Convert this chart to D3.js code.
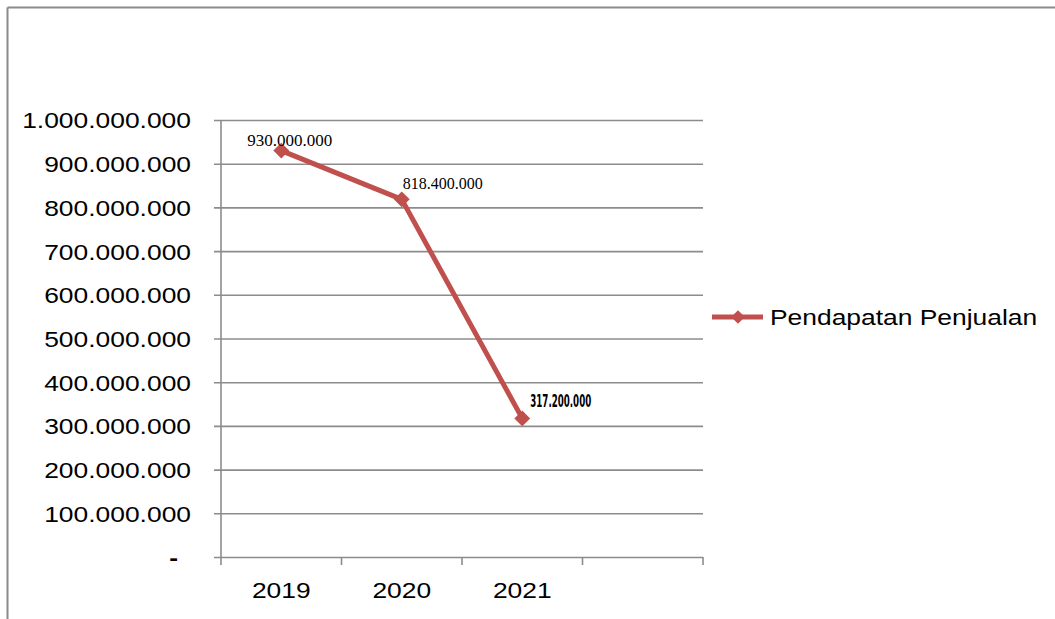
<!DOCTYPE html>
<html><head><meta charset="utf-8">
<script src="https://cdn.jsdelivr.net/npm/d3@7"></script>
<style>body{margin:0;background:#fff}svg{display:block}</style>
</head><body>
<svg id="c" width="1055" height="619"></svg>
<script>
const categories = ["2019", "2020", "2021", ""];
const years = ["2019", "2020", "2021"];
const values = [930000000, 818400000, 317200000];
const seriesName = "Pendapatan Penjualan";
const yTicks = [0,100000000,200000000,300000000,400000000,500000000,600000000,700000000,800000000,900000000,1000000000];

const svg = d3.select("#c");
const red = "#C0504D", grid = "#8c8c8c";
const pLeft = 221, pRight = 703, pTop = 120, pBottom = 557;
const x = d3.scaleBand().domain(categories).range([pLeft, pRight]);
const y = d3.scaleLinear().domain([0, 1000000000]).range([pBottom, pTop]);
const loc = d3.formatLocale({decimal: ",", thousands: ".", grouping: [3], currency: ["", ""]});
const fmt = loc.format(",.0f");
const stretch = (sel, k) => sel.each(function(){ const w = this.getComputedTextLength(); d3.select(this).attr("textLength", w * k).attr("lengthAdjust", "spacingAndGlyphs"); });

// outer frame
svg.append("line").attr("x1", 7.5).attr("x2", 1055).attr("y1", 7.5).attr("y2", 7.5).attr("stroke", "#8a8a8a").attr("stroke-width", 2);
svg.append("line").attr("x1", 7.5).attr("x2", 7.5).attr("y1", 7.5).attr("y2", 619).attr("stroke", "#8a8a8a").attr("stroke-width", 2);

// gridlines + y axis
const yAxis = d3.axisLeft(y).tickValues(yTicks).tickSize(0).tickFormat(d => d === 0 ? "-" : fmt(d));
const gy = svg.append("g").attr("transform", `translate(${pLeft},0)`).call(yAxis);
gy.select(".domain").remove();
gy.selectAll(".tick line").remove();
gy.selectAll(".tick").append("line").attr("x1", -7).attr("x2", pRight - pLeft).attr("stroke", grid).attr("stroke-width", 1.6);
gy.selectAll(".tick text").attr("x", d => d === 0 ? -43 : -30).attr("dy", "0.36em")
  .attr("font-family", "Liberation Sans, Arial, sans-serif").attr("font-size", 22).attr("fill", "#000")
  .attr("font-weight", d => d === 0 ? "bold" : "normal");
stretch(gy.selectAll(".tick text"), 1.2);

// x axis
const xAxis = d3.axisBottom(x).tickSize(0).tickFormat(d => d);
const gx = svg.append("g").attr("transform", `translate(0,${pBottom})`).call(xAxis);
gx.select(".domain").remove();
gx.selectAll(".tick text").attr("y", 41).attr("dy", 0).attr("font-family", "Liberation Sans, Arial, sans-serif").attr("font-size", 22).attr("fill", "#000");
stretch(gx.selectAll(".tick text"), 1.2);
const edges = categories.map(c => x(c)).concat([x.range()[1]]);
svg.append("g").selectAll("line").data(edges).join("line")
  .attr("x1", d => d).attr("x2", d => d).attr("y1", pBottom).attr("y2", pBottom + 8).attr("stroke", grid).attr("stroke-width", 1.6);
svg.append("line").attr("x1", pLeft).attr("x2", pLeft).attr("y1", pTop).attr("y2", pBottom).attr("stroke", grid).attr("stroke-width", 1.6);

// series line
const pts = years.map((c, i) => [x(c) + x.bandwidth() / 2, y(values[i])]);
svg.append("path").attr("d", d3.line()(pts)).attr("fill", "none").attr("stroke", red).attr("stroke-width", 5).attr("stroke-linejoin", "round");
const diamond = d3.symbol().type(d3.symbolDiamond2).size(160);
svg.append("g").selectAll("path").data(pts).join("path")
  .attr("transform", d => `translate(${d[0]},${d[1]})`).attr("d", diamond).attr("fill", red);

// data labels
const lab = svg.append("g");
const labelSpecs = [
  {dx: -34, dy: -5, w: 85, font: "Liberation Serif, Times New Roman, serif", weight: "normal", size: 17},
  {dx: 1, dy: -10, w: 80, font: "Liberation Serif, Times New Roman, serif", weight: "normal", size: 17},
  {dx: 8, dy: -11, w: 61, font: "Liberation Sans Narrow, DejaVu Sans Condensed, sans-serif", weight: "bold", size: 17}
];
pts.forEach((p, i) => {
  const s = labelSpecs[i];
  lab.append("text").attr("x", p[0] + s.dx).attr("y", p[1] + s.dy).text(fmt(values[i]))
    .attr("font-family", s.font).attr("font-weight", s.weight).attr("font-size", s.size)
    .attr("textLength", s.w).attr("lengthAdjust", "spacingAndGlyphs").attr("fill", "#000");
});

// legend
const lg = svg.append("g").attr("transform", "translate(712,317)");
lg.append("line").attr("x1", 0).attr("x2", 51).attr("stroke", red).attr("stroke-width", 5);
lg.append("path").attr("transform", "translate(26,0)").attr("d", d3.symbol().type(d3.symbolDiamond2).size(120)).attr("fill", red);
const lt = lg.append("text").attr("x", 58).attr("dy", "0.36em").text(seriesName)
  .attr("font-family", "Liberation Sans, Arial, sans-serif").attr("font-size", 22).attr("fill", "#000");
stretch(lt, 1.2);
</script>
</body></html>
